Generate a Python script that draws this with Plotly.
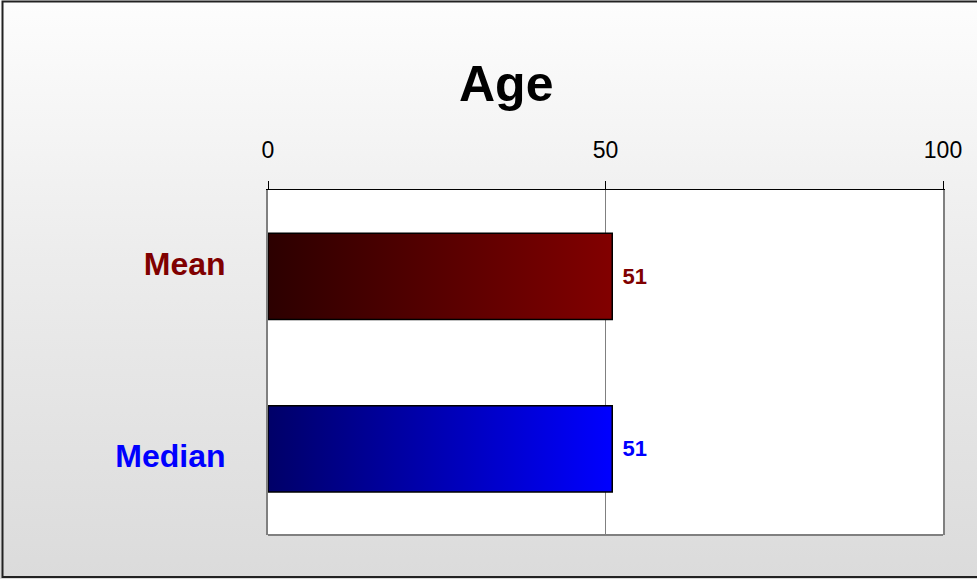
import plotly.graph_objects as go

# ---- data ----
categories = ["Mean", "Median"]
values = [51, 51]
label_colors = ["#800000", "#0000FF"]
grad_left = ["#2c0000", "#000068"]
grad_right = ["#820000", "#0000FF"]
x_ticks = [0, 50, 100]
title_text = "Age"

W, H = 977, 579
FONT = "Arial, Liberation Sans, sans-serif"

fig = go.Figure()

# background gradient on a full-page helper subplot (xy)
fig.add_trace(go.Scatter(
    x=[0, 1, 1, 0, 0], y=[0, 0, 1, 1, 0], xaxis="x", yaxis="y",
    mode="lines", line=dict(width=0), fill="toself",
    fillgradient=dict(type="vertical", colorscale=[[0, "#dbdbdb"], [0.55, "#ececec"], [1, "#fdfdfd"]]),
    hoverinfo="skip", showlegend=False,
))

ypos = [len(categories) - 1 - i for i in range(len(categories))]
half = 0.25

fig.add_trace(go.Bar(
    x=values, y=ypos, orientation="h", xaxis="x2", yaxis="y2",
    width=2 * half,
    marker=dict(color="rgba(0,0,0,0)", line=dict(width=0)),
    texttemplate="\u2004%{x}", textposition="outside",
    textfont=dict(family=FONT, size=22, color=label_colors, weight="bold"),
    cliponaxis=False, hoverinfo="skip", showlegend=False,
))

for i, (cat, v) in enumerate(zip(categories, values)):
    yc = ypos[i]
    fig.add_trace(go.Scatter(
        x=[0, v, v, 0, 0],
        y=[yc - half, yc - half, yc + half, yc + half, yc - half],
        xaxis="x2", yaxis="y2", mode="lines",
        line=dict(color="black", width=1.5), fill="toself",
        fillgradient=dict(type="horizontal",
                          colorscale=[[0, grad_left[i]], [1, grad_right[i]]]),
        name=cat, hoverinfo="skip", showlegend=False,
    ))

x0p, x1p = 268 / W, 943 / W
y0p, y1p = 1 - 535 / H, 1 - 190 / H

# category labels sit slightly spread apart from the bar centres, as in the original
label_shift = [0.07, -0.04]
ticktext_y = [f'<span style="color:{c}">{cat}</span>' for cat, c in zip(categories, label_colors)]
tickvals_y = [p + s for p, s in zip(ypos, label_shift)]

fig.update_layout(
    width=W, height=H, autosize=False,
    margin=dict(l=0, r=0, t=0, b=0, autoexpand=False),
    paper_bgcolor="#ececec", plot_bgcolor="white",
    showlegend=False,
    xaxis=dict(domain=[0, 1], range=[0, 1], visible=False, fixedrange=True, automargin=False),
    yaxis=dict(domain=[0, 1], range=[0, 1], visible=False, fixedrange=True, automargin=False),
    xaxis2=dict(domain=[x0p, x1p], anchor="y2", side="top", range=[0, 100],
                tickvals=x_ticks, ticktext=[str(t) for t in x_ticks],
                ticks="outside", ticklen=8, tickcolor="black", tickwidth=1,
                showline=True, linecolor="black", linewidth=1,
                showgrid=True, gridcolor="#808080", gridwidth=1, zeroline=False,
                tickfont=dict(family=FONT, size=23, color="black"),
                ticklabelstandoff=14, automargin=False, fixedrange=True),
    yaxis2=dict(domain=[y0p, y1p], anchor="x2", range=[-0.5, len(categories) - 0.5],
                tickvals=tickvals_y, ticktext=ticktext_y, ticks="",
                showline=True, linecolor="#808080", linewidth=2, mirror=True,
                showgrid=False, zeroline=False,
                tickfont=dict(family=FONT, size=32, weight="bold"),
                ticklabelstandoff=34, automargin=False, fixedrange=True),
    annotations=[dict(text=title_text, xref="paper", yref="paper",
                      x=506 / W, y=1 - 84 / H, showarrow=False,
                      font=dict(family=FONT, size=50, color="black", weight="bold"),
                      xanchor="center", yanchor="middle")],
    shapes=[
        dict(type="line", xref="x2 domain", yref="y2 domain", x0=0, x1=1, y0=0, y1=0,
             line=dict(color="#808080", width=2)),
        dict(type="rect", xref="paper", yref="paper", x0=2.5 / W, x1=1.02,
             y0=1 - 577 / H, y1=1 - 1.5 / H, line=dict(color="#222222", width=2)),
    ],
)

fig.write_html(
    "out.html",
    config={"responsive": False, "displayModeBar": False},
    post_script="document.body.style.margin='0';document.body.style.overflow='hidden';document.documentElement.style.overflow='hidden';",
)
